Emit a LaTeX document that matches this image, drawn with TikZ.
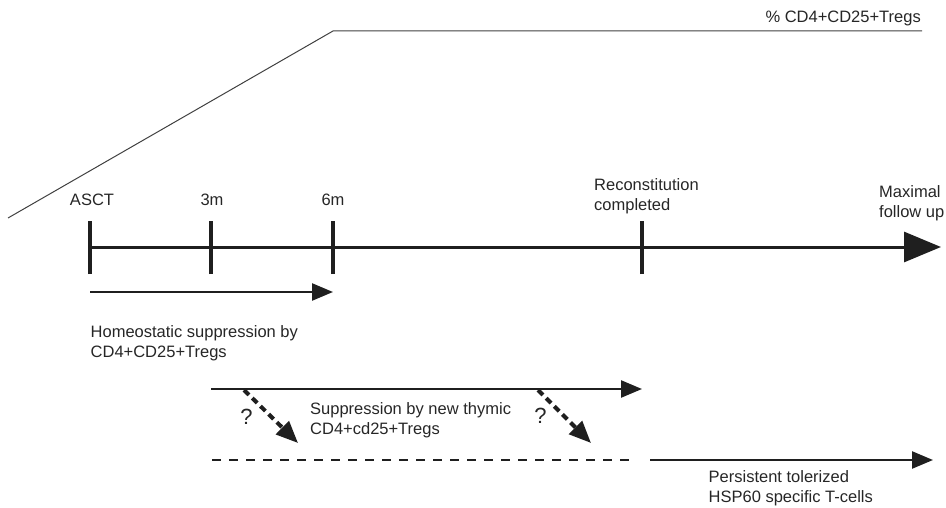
\documentclass[tikz,border=0pt]{standalone}
\usepackage{fontspec}
\setmainfont{Liberation Sans}
\usetikzlibrary{arrows.meta}
\begin{document}
\begin{tikzpicture}[x=1pt,y=-1pt,
  lbl/.style={inner sep=0pt,font=\fontsize{16.5}{20.5}\selectfont,text=black!85},
  lblL/.style={lbl,align=left,anchor=north west},
  qlbl/.style={inner sep=0pt,font=\fontsize{22}{24}\selectfont,text=black!85,anchor=base},
  axis/.style={line width=3pt,black!88},
  tick/.style={line width=4pt,black!88},
  bigtip/.style={-{Triangle[length=37pt,width=30pt]}},
  phase/.style={line width=2.5pt,black!88,-{Triangle[length=21pt,width=17pt]}},
  maybe/.style={line width=4pt,black!88,dash pattern=on 7pt off 4.5pt,-{Triangle[length=22pt,width=18pt]}},
  trend/.style={line width=1pt,black!75}]
\useasboundingbox (0,0) rectangle (946,508);
% trend curve
\coordinate (t0) at (8,218);
\coordinate (t1) at (333,31);
\coordinate (t2) at (922,31);
\draw[trend] (t0) -- (t1) -- (t2);
\node[lbl,anchor=base east] (tregs) at (921,23) {\% CD4+CD25+Tregs};
% main axis
\coordinate (a0) at (90,247);
\coordinate (a1) at (211,247);
\coordinate (a2) at (333,247);
\coordinate (a3) at (642,247);
\coordinate (aend) at (941,247);
\draw[axis,bigtip] (a0) -- (aend);
\foreach \p in {a0,a1,a2,a3}
  \draw[tick] ([yshift=-27pt]\p) -- ([yshift=26pt]\p);
\node[lbl,anchor=base] (asct) at (92,206) {ASCT};
\node[lbl,anchor=base] (m3) at (212,206) {3m};
\node[lbl,anchor=base] (m6) at (333,206) {6m};
\node[lblL] (recon) at (594,178) {Reconstitution\\completed};
\node[lblL] (maxf) at (879,185) {Maximal\\follow up};
% phase 1
\coordinate (p1s) at (90,292);
\coordinate (p1e) at (333,292);
\draw[phase] (p1s) -- (p1e);
\node[lblL] (homeo) at (90.5,325) {Homeostatic suppression by\\CD4+CD25+Tregs};
% phase 2
\coordinate (p2s) at (211,389);
\coordinate (p2e) at (642,389);
\draw[phase] (p2s) -- (p2e);
\node[lblL] (thymic) at (310,402) {Suppression by new thymic\\CD4+cd25+Tregs};
% possible transitions
\coordinate (q1s) at (244,390);
\coordinate (q1e) at (298,443);
\coordinate (q2s) at (538,390);
\coordinate (q2e) at (591,443);
\draw[maybe] (q1s) -- (q1e);
\draw[maybe] (q2s) -- (q2e);
\node[qlbl] (qm1) at (246.5,424) {?};
\node[qlbl] (qm2) at (540.5,423) {?};
% phase 3
\coordinate (p3d) at (212,460);
\coordinate (p3m) at (635,460);
\coordinate (p3s) at (650,460);
\coordinate (p3e) at (933,460);
\draw[line width=2.5pt,black!88,dash pattern=on 9pt off 8pt] (p3d) -- (p3m);
\draw[phase] (p3s) -- (p3e);
\node[lblL] (persist) at (708.5,470) {Persistent tolerized\\HSP60 specific T-cells};
\end{tikzpicture}
\end{document}
